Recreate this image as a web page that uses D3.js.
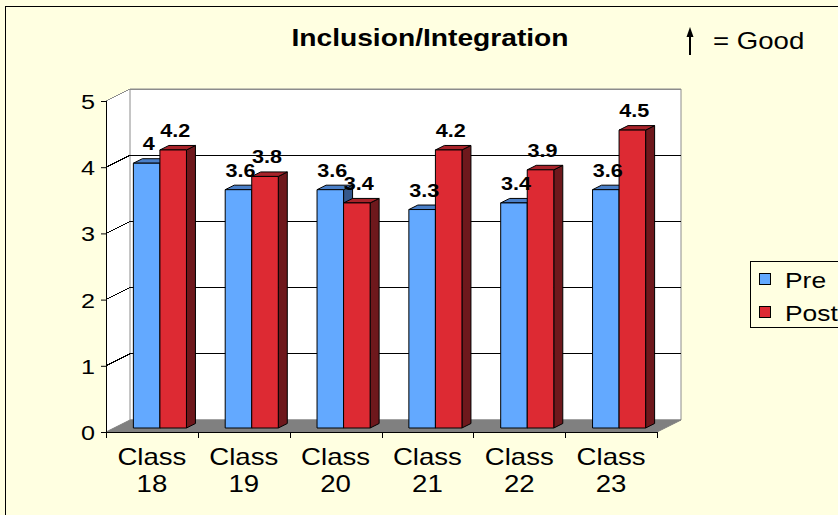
<!DOCTYPE html>
<html>
<head>
<meta charset="utf-8">
<script src="https://cdn.jsdelivr.net/npm/d3@7"></script>
<style>
  body { margin: 0; background: #ffffe1; }
  svg { display: block; font-family: "Liberation Sans", Arial, sans-serif; }
</style>
</head>
<body>
<svg id="chart" width="838" height="515"></svg>
<script>
// data
const categories = ['Class 18', 'Class 19', 'Class 20', 'Class 21', 'Class 22', 'Class 23'];
const series = ['Pre', 'Post'];
const preValues = [4, 3.6, 3.6, 3.3, 3.4, 3.6];
const postValues = [4.2, 3.8, 3.4, 4.2, 3.9, 4.5];
const yTicks = [0, 1, 2, 3, 4, 5];
const titleText = 'Inclusion/Integration';
const noteText = '= Good';

const colors = {
  Pre: { front: '#63a9ff', top: '#4a7fc8', side: '#35588c' },
  Post: { front: '#dd2a33', top: '#a8232a', side: '#6e181c' }
};

const svg = d3.select('#chart');
const stretch = 1.2; // text in the picture is a bit wider than plain Arial
const plot = { left: 106, right: 657, top: 101, bottom: 432 };
const depth = { dx: 24, dy: -12 };
const barZ0 = 0.333, barZ1 = 0.708;
const proj = (x, y, z) => [x + z * depth.dx, y + z * depth.dy];
const pts = (list) => list.map((p) => p.join(',')).join(' ');

const x0 = d3.scaleBand().domain(categories).range([plot.left, plot.right]);
const x1 = d3.scaleBand().domain(series).range([0, x0.bandwidth()]).paddingInner(0).paddingOuter(0.73);
const y = d3.scaleLinear().domain([0, 5]).range([plot.bottom, plot.top]);
const y0 = y(0), yMax = y(5);

svg.append('rect').attr('width', 838).attr('height', 515).attr('fill', '#ffffe1');
svg.append('rect').attr('x', 5.5).attr('y', 6.5).attr('width', 900).attr('height', 600)
  .attr('fill', 'none').attr('stroke', '#000');

// walls
const L = plot.left, R = plot.right;
svg.append('polygon').attr('points', pts([proj(L, y0, 0), proj(L, yMax, 0), proj(L, yMax, 1), proj(L, y0, 1)]))
  .attr('fill', '#fff');
svg.append('polygon').attr('points', pts([proj(L, yMax, 1), proj(R, yMax, 1), proj(R, y0, 1), proj(L, y0, 1)]))
  .attr('fill', '#fff').attr('stroke', '#8c8c8c');

// gridlines (side wall + back wall)
yTicks.filter((v) => v > 0).forEach((v) => {
  svg.append('polyline')
    .attr('points', pts([[L, y(v)], proj(L, y(v), 1), proj(R, y(v), 1)]))
    .attr('fill', 'none')
    .attr('stroke', v === 5 ? '#8c8c8c' : '#000')
    .attr('stroke-width', 1)
    .attr('shape-rendering', 'crispEdges');
});

// floor
svg.append('polygon').attr('points', pts([proj(L, y0, 0), proj(R, y0, 0), proj(R, y0, 1), proj(L, y0, 1)]))
  .attr('fill', '#808080').attr('stroke', '#808080');

// bars
categories.forEach((cat, i) => {
  const values = { Pre: preValues[i], Post: postValues[i] };
  series.forEach((s) => {
    const v = values[s];
    const xl = x0(cat) + x1(s), xr = xl + x1.bandwidth();
    const yt = y(v);
    const g = svg.append('g').attr('class', 'bar').attr('stroke', '#000').attr('stroke-width', 1).attr('stroke-linejoin', 'round');
    g.append('polygon').attr('points', pts([proj(xr, yt, barZ0), proj(xr, yt, barZ1), proj(xr, y0, barZ1), proj(xr, y0, barZ0)]))
      .attr('fill', colors[s].side);
    g.append('polygon').attr('points', pts([proj(xl, yt, barZ0), proj(xr, yt, barZ0), proj(xr, yt, barZ1), proj(xl, yt, barZ1)]))
      .attr('fill', colors[s].top);
    g.append('polygon').attr('points', pts([proj(xl, yt, barZ0), proj(xr, yt, barZ0), proj(xr, y0, barZ0), proj(xl, y0, barZ0)]))
      .attr('fill', colors[s].front);
  });
});

// value labels
categories.forEach((cat, i) => {
  const values = { Pre: preValues[i], Post: postValues[i] };
  series.forEach((s) => {
    const v = values[s];
    const p = proj(x0(cat) + x1(s) + x1.bandwidth() / 2, y(v), barZ0);
    svg.append('text')
      .attr('transform', 'translate(' + (p[0] + 2) + ',' + (p[1] - 13) + ') scale(' + stretch + ',1)')
      .attr('text-anchor', 'middle')
      .attr('font-size', 18).attr('font-weight', 'bold').attr('fill', '#000')
      .text(String(v));
  });
});

// y axis
const yAxis = svg.append('g').attr('transform', 'translate(' + L + ',0)')
  .call(d3.axisLeft(y).tickValues(yTicks).tickSize(5).tickPadding(7).tickFormat(d3.format('d')));
yAxis.select('.domain').attr('stroke', '#000').attr('d', 'M0.5,' + yMax + 'V' + y0);
yAxis.selectAll('.tick line').attr('stroke', '#000');
yAxis.selectAll('.tick text')
  .attr('font-size', 21).attr('font-family', '"Liberation Sans", Arial, sans-serif').attr('fill', '#000')
  .attr('dy', '0.36em')
  .attr('transform', 'scale(' + stretch + ',1)')
  .attr('x', -11 / stretch);

// x axis: line plus ticks at category boundaries
svg.append('line').attr('x1', L).attr('x2', R).attr('y1', y0 + 0.5).attr('y2', y0 + 0.5).attr('stroke', '#000');
const bounds = categories.map((c) => x0(c)).concat([R]);
svg.selectAll('.xtick').data(bounds).enter().append('line').attr('class', 'xtick')
  .attr('x1', (d) => Math.round(d) + 0.5).attr('x2', (d) => Math.round(d) + 0.5)
  .attr('y1', y0).attr('y2', y0 + 6).attr('stroke', '#000');
categories.forEach((cat) => {
  const cx = x0(cat) + x0.bandwidth() / 2;
  const parts = cat.split(' ');
  parts.forEach((part, k) => {
    svg.append('text')
      .attr('transform', 'translate(' + cx + ',' + (465 + k * 27) + ') scale(' + stretch + ',1)')
      .attr('text-anchor', 'middle').attr('font-size', 23).attr('fill', '#000')
      .text(part);
  });
});

// title and note
svg.append('text').attr('transform', 'translate(430,46) scale(' + stretch + ',1)')
  .attr('text-anchor', 'middle').attr('font-size', 23.5).attr('font-weight', 'bold').text(titleText);
svg.append('line').attr('x1', 690).attr('x2', 690).attr('y1', 55).attr('y2', 34)
  .attr('stroke', '#000').attr('stroke-width', 2);
svg.append('polygon').attr('points', '686.5,37 693.5,37 690,27').attr('fill', '#000');
svg.append('text').attr('transform', 'translate(713,49) scale(' + stretch + ',1)')
  .attr('font-size', 23).text(noteText);

// legend
const legend = svg.append('g');
legend.append('rect').attr('x', 750.5).attr('y', 261.5).attr('width', 120).attr('height', 66)
  .attr('fill', 'none').attr('stroke', '#000');
series.forEach((s, k) => {
  legend.append('rect').attr('x', 759.5).attr('y', 273.5 + k * 33).attr('width', 11).attr('height', 11)
    .attr('fill', colors[s].front).attr('stroke', '#000');
  legend.append('text').attr('transform', 'translate(785,' + (288 + k * 33) + ') scale(' + stretch + ',1)')
    .attr('font-size', 22).text(s);
});
</script>
</body>
</html>
